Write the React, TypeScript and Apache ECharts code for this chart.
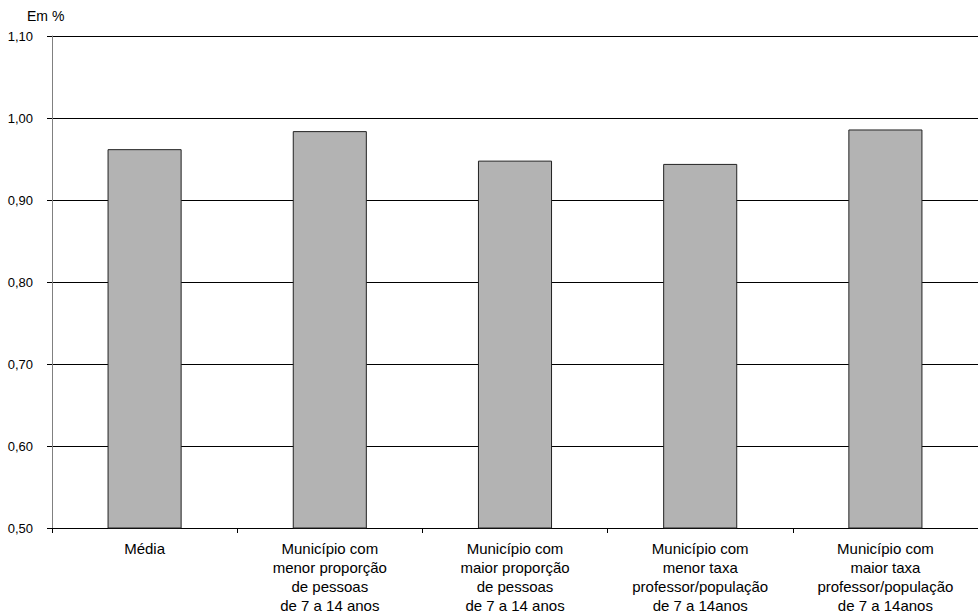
import React, { useEffect, useRef } from "react";
import * as echarts from "echarts";

const categories = [
  "Média",
  "Município com\nmenor proporção\nde pessoas\nde 7 a 14 anos",
  "Município com\nmaior proporção\nde pessoas\nde 7 a 14 anos",
  "Município com\nmenor taxa\nprofessor/população\nde 7 a 14anos",
  "Município com\nmaior taxa\nprofessor/população\nde 7 a 14anos",
];
const values = [0.962, 0.984, 0.948, 0.944, 0.986];
const yMin = 0.5;
const yMax = 1.1;
const yInterval = 0.1;

export default function App() {
  const ref = useRef<HTMLDivElement>(null);
  useEffect(() => {
    if (!ref.current) return;
    const chart = echarts.init(ref.current, null, { renderer: "svg" });
    const font = "'Liberation Sans', Arial, sans-serif";
    chart.setOption({
      animation: false,
      textStyle: { fontFamily: font },
      grid: { left: 52, right: 0, top: 36, bottom: 88, containLabel: false },
      graphic: [
        {
          type: "text",
          left: 27,
          top: 9,
          style: { text: "Em %", font: `14px ${font}`, fill: "#000" },
        },
      ],
      xAxis: {
        type: "category",
        data: categories,
        axisLine: { show: true, lineStyle: { color: "#000", width: 1 } },
        axisTick: { show: true, alignWithLabel: false, length: 5, inside: false, lineStyle: { color: "#000" } },
        axisLabel: {
          color: "#000",
          fontSize: 15,
          fontFamily: font,
          lineHeight: 19,
          margin: 11,
          interval: 0,
          align: "center",
        },
      },
      yAxis: {
        type: "value",
        min: yMin,
        max: yMax,
        interval: yInterval,
        axisLine: { show: true, lineStyle: { color: "#808080", width: 1 } },
        axisTick: { show: true, length: 5, lineStyle: { color: "#000" } },
        splitLine: { show: true, lineStyle: { color: "#000", width: 1 } },
        axisLabel: {
          color: "#000",
          fontSize: 13,
          fontFamily: font,
          margin: 19,
          formatter: (v: number) => v.toFixed(2).replace(".", ","),
        },
      },
      series: [
        {
          type: "bar",
          data: values,
          barWidth: "40%",
          itemStyle: { color: "#B3B3B3", borderColor: "#222", borderWidth: 1 },
        },
      ],
    });
    return () => chart.dispose();
  }, []);
  return <div ref={ref} style={{ width: 978, height: 616, position: "absolute", left: 0, top: 0 }} />;
}
